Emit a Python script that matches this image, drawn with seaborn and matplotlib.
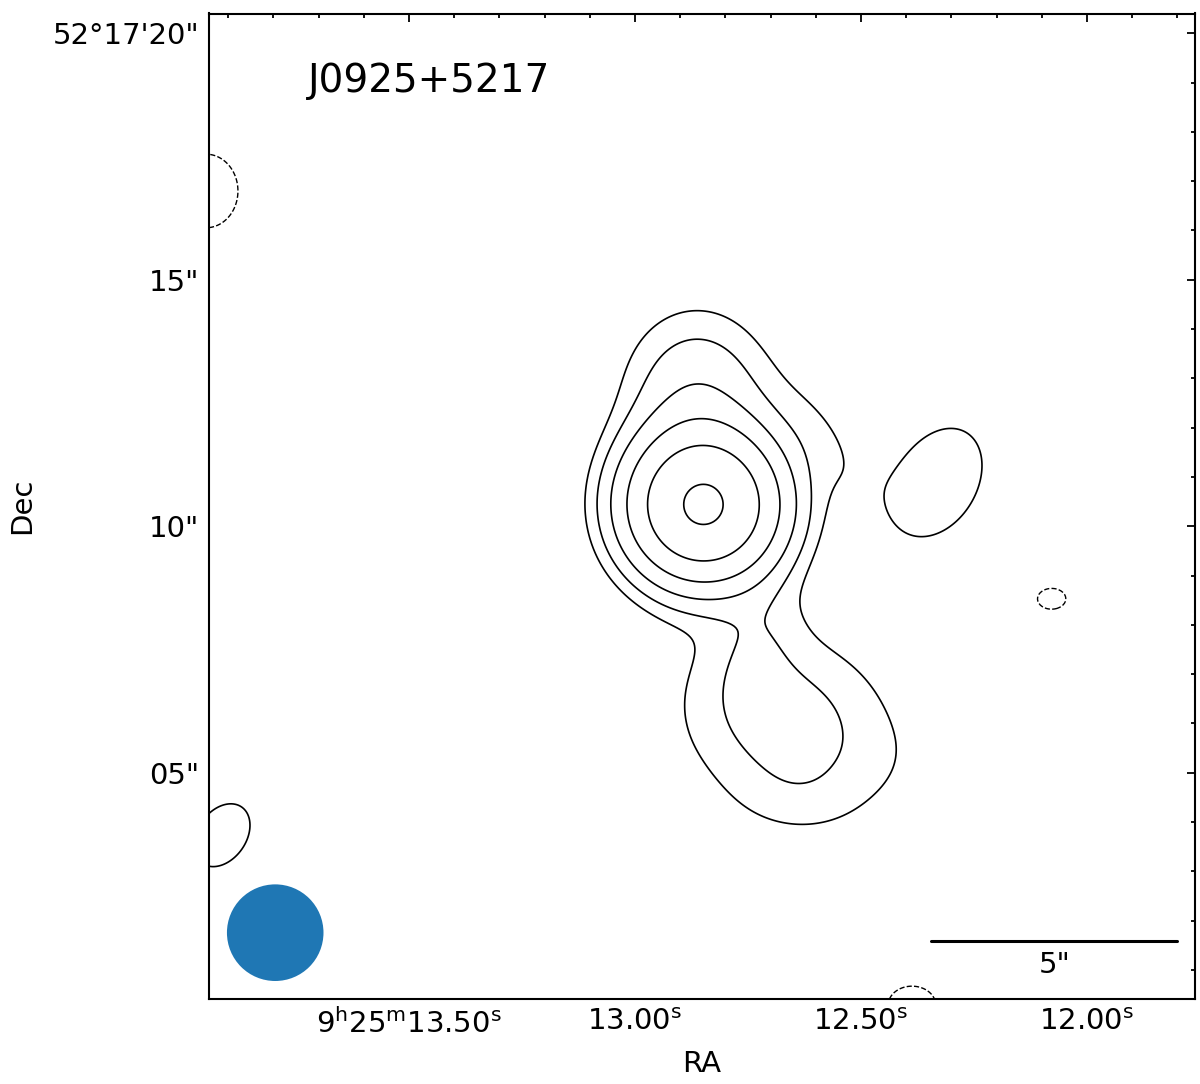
import matplotlib
matplotlib.use("Agg")
import matplotlib.pyplot as plt
from matplotlib.patches import Ellipse
from matplotlib.ticker import MultipleLocator, FixedLocator, FixedFormatter
import seaborn as sns
import numpy as np

### Source model: gaussian components (RA in s of 9h25m, Dec in " of +52d17m)
comp_ra = [12.8485, 12.8628, 12.5907, 12.6637, 12.635, 12.447, 12.730, 12.3319, 13.9137, 13.9491, 12.0785, 12.3872]
comp_dec = [10.426, 12.738, 11.846, 6.024, 4.442, 5.254, 7.688, 10.892, 3.732, 16.80, 8.529, 0.284]
comp_amp = [35.0, 3.2, 0.9, 2.6, 0.5, 0.2, 1.0, 1.5, 1.4, -1.4, -1.1, -1.2]
comp_sx = [0.9, 0.95, 1.0, 1.5, 1.0, 0.6, 0.6, 1.3, 0.85, 0.79, 0.67, 0.8]
comp_sy = [0.9, 1.07, 0.5, 1.2, 0.6, 0.6, 0.9, 0.9, 0.6, 0.91, 0.49, 0.64]
comp_pa = [0, 0, -57, -20, 0, 0, -20, 60, 55, 0, 0, 0]

# contour levels in units of the lowest contour
pos_levels = [1, 2, 4, 8, 16, 32]
neg_levels = [-1]

ra_ticks = [13.5, 13.0, 12.5, 12.0]
ra_labels = [r"$\mathregular{9^h25^m13.50^s}$", r"$\mathregular{13.00^s}$",
             r"$\mathregular{12.50^s}$", r"$\mathregular{12.00^s}$"]
dec_ticks = [20, 15, 10, 5]
dec_labels = ["52°17'20\"", '15"', '10"', '05"']

beam_major = 1.96  # arcsec
beam_minor = 1.96
scalebar_arcsec = 5
target = "J0925+5217"

cosd = np.cos(np.deg2rad(52 + 17 / 60 + 10 / 3600))
ra_grid = np.linspace(11.70, 14.00, 600)
dec_grid = np.linspace(-0.5, 21.0, 600)
RA, DEC = np.meshgrid(ra_grid, dec_grid)

field = np.zeros_like(RA)
for ra0, dec0, amp, sx, sy, pa in zip(comp_ra, comp_dec, comp_amp, comp_sx, comp_sy, comp_pa):
    u = (ra0 - RA) * 15 * cosd
    v = DEC - dec0
    t = np.deg2rad(pa)
    a = u * np.cos(t) + v * np.sin(t)
    b = -u * np.sin(t) + v * np.cos(t)
    field += amp * np.exp(-0.5 * ((a / sx) ** 2 + (b / sy) ** 2))

sns.set_style("white")
plt.rcParams["font.family"] = ["DejaVu Sans"]
for key in ["text.color", "axes.labelcolor", "xtick.color", "ytick.color"]:
    plt.rcParams[key] = "black"

fig = plt.figure(figsize=(12, 10.84), dpi=100)
ax = fig.add_axes([209 / 1200, 85.5 / 1084, 986 / 1200, 985 / 1084])

ax.contour(RA, DEC, field, levels=pos_levels, colors="black", linewidths=1.2)
ax.contour(RA, DEC, field, levels=neg_levels, colors="black", linewidths=1.0, linestyles="dashed")

ax.set_xlim(13.9425, 11.761)
ax.set_ylim(0.42, 20.40)

# beam
beam = Ellipse((13.796, 1.755), beam_minor / (15 * cosd), beam_major,
               color=sns.color_palette("tab10")[0], lw=0)
ax.add_patch(beam)

# scale bar
bar_len = scalebar_arcsec / (15 * cosd)
ax.plot([11.80 + bar_len, 11.80], [1.58, 1.58], color="black", lw=2.2)
ax.text(11.80 + bar_len / 2, 1.10, f'{scalebar_arcsec}"', ha="center", va="center", fontsize=21)

ax.text(0.1004, 0.931, target, transform=ax.transAxes, fontsize=28, ha="left", va="center")

ax.xaxis.set_major_locator(FixedLocator(ra_ticks))
ax.xaxis.set_major_formatter(FixedFormatter(ra_labels))
ax.xaxis.set_minor_locator(MultipleLocator(0.1))
ax.yaxis.set_major_locator(FixedLocator(dec_ticks))
ax.yaxis.set_major_formatter(FixedFormatter(dec_labels))
ax.yaxis.set_minor_locator(MultipleLocator(1))
ax.tick_params(which="both", direction="in", top=True, right=True, labelsize=21, width=1.3)
ax.tick_params(which="major", length=5.5, pad=7)
ax.tick_params(which="minor", length=3)
for sp in ax.spines.values():
    sp.set_linewidth(1.5)
    sp.set_color("black")

ax.set_xlabel("RA", fontsize=21, labelpad=8)
ax.set_ylabel("Dec", fontsize=21, labelpad=12)

fig.savefig("out.png", dpi=100)
